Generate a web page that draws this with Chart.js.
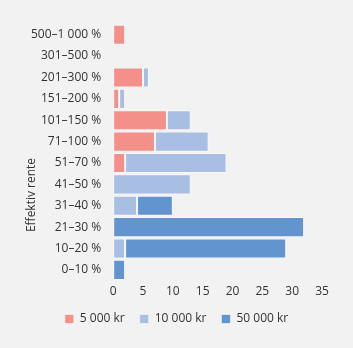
<!DOCTYPE html>
<html>
<head>
<meta charset="utf-8">
<script src="https://cdn.jsdelivr.net/npm/chart.js@4"></script>
<style>
  html, body { margin: 0; padding: 0; background: #f2f2f2; }
  #wrap { width: 353px; height: 348px; }
</style>
</head>
<body>
<div id="wrap"><canvas id="renteChart" width="353" height="348"></canvas></div>
<script>
const categories = ['500–1 000 %', '301–500 %', '201–300 %', '151–200 %', '101–150 %', '71–100 %',
    '51–70 %', '41–50 %', '31–40 %', '21–30 %', '10–20 %', '0–10 %'];
const loan5000 = [2, 0, 5, 1, 9, 7, 2, 0, 0, 0, 0, 0];
const loan10000 = [0, 0, 1, 1, 4, 9, 17, 13, 4, 0, 2, 0];
const loan50000 = [0, 0, 0, 0, 0, 0, 0, 0, 6, 32, 27, 2];
const xTicks = [0, 5, 10, 15, 20, 25, 30, 35];
const axisTitle = 'Effektiv rente';

Chart.defaults.font.family = '"Open Sans", sans-serif';
Chart.defaults.font.size = 12;
Chart.defaults.color = '#333333';

// rotated axis title, placed lower than the default centre
const axisTitlePlugin = {
    id: 'axisTitle',
    afterDraw(chart) {
        const ctx = chart.ctx;
        ctx.save();
        ctx.translate(32, 195);
        ctx.rotate(-Math.PI / 2);
        ctx.font = '12px "Open Sans", sans-serif';
        ctx.fillStyle = '#333333';
        ctx.textAlign = 'center';
        ctx.textBaseline = 'middle';
        ctx.fillText(axisTitle, 0, 0);
        ctx.restore();
    }
};

// centre the legend on the whole canvas, not on the padded area
const legendCentrePlugin = {
    id: 'legendCentre',
    afterLayout(chart) {
        if (chart.legend) {
            chart.legend.left = 0;
            chart.legend.right = chart.width;
            chart.legend.width = chart.width;
        }
    }
};

function series(label, data, color) {
    return {
        label: label,
        data: data,
        backgroundColor: color,
        borderColor: 'rgba(255,255,255,0.55)',
        borderWidth: 1,
        borderSkipped: false,
        barPercentage: 0.94,
        categoryPercentage: 1
    };
}

const ctx = document.getElementById('renteChart').getContext('2d');
new Chart(ctx, {
    type: 'bar',
    data: {
        labels: categories,
        datasets: [
            series('5 000 kr', loan5000, '#f4908a'),
            series('10 000 kr', loan10000, '#a8bee3'),
            series('50 000 kr', loan50000, '#6295cf')
        ]
    },
    plugins: [axisTitlePlugin, legendCentrePlugin],
    options: {
        indexAxis: 'y',
        responsive: false,
        animation: false,
        layout: {
            padding: { top: 24, left: 19, right: 31, bottom: 13 }
        },
        plugins: {
            legend: {
                position: 'bottom',
                labels: {
                    boxWidth: 9,
                    boxHeight: 9,
                    padding: 15,
                    color: '#333333'
                }
            },
            tooltip: { enabled: false }
        },
        scales: {
            x: {
                stacked: true,
                min: 0,
                max: 35,
                afterBuildTicks: axis => {
                    axis.ticks = xTicks.map(v => ({ value: v }));
                },
                // tick labels may run into the legend's top padding
                afterFit: axis => {
                    axis.height -= 5;
                },
                grid: { display: false, drawTicks: false },
                border: { display: false },
                ticks: { padding: 4 }
            },
            y: {
                stacked: true,
                grid: { display: false, drawTicks: false },
                border: { display: false },
                ticks: { padding: 12 }
            }
        }
    }
});
</script>
</body>
</html>
